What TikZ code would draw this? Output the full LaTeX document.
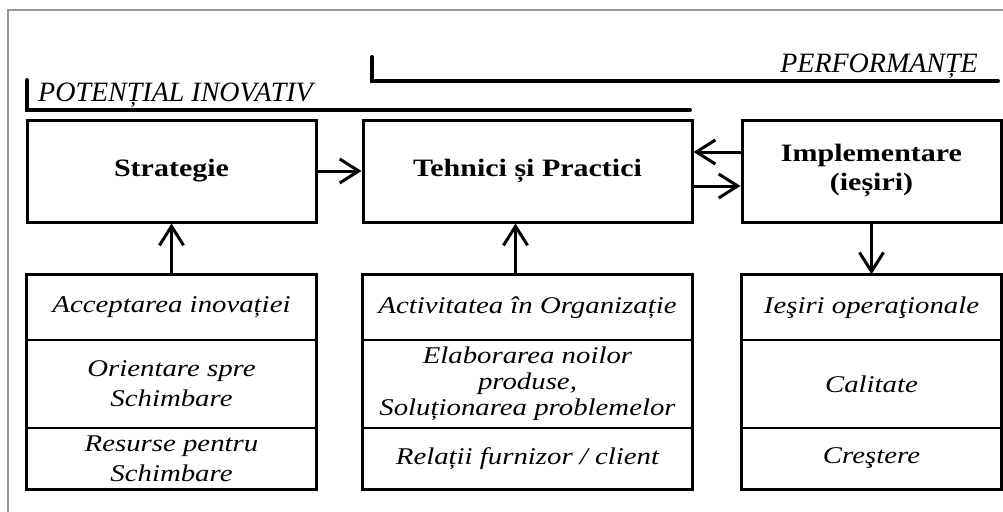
\documentclass[tikz,border=0pt]{standalone}
\usepackage{fontspec}
\setmainfont{Liberation Serif}
\newfontfamily\boxfont[FakeStretch=1.2]{Liberation Serif}
\usepackage{tikz}
\usetikzlibrary{arrows.meta,positioning}

\tikzset{
  bigbox/.style={draw, line width=3pt, minimum height=102pt, align=center,
    font=\boxfont\bfseries\fontsize{25}{29}\selectfont},
  cell/.style={draw, line width=1.5pt, align=center, inner sep=0pt,
    font=\boxfont\itshape\fontsize{24}{30}\selectfont},
  arr/.style={line width=3pt, -{Straight Barb[length=19pt,width=24pt,line width=3pt]}},
  bracket/.style={line width=4pt, line cap=round},
  tag/.style={font=\itshape\fontsize{28}{30}\selectfont, inner sep=0pt}
}

\begin{document}
\begin{tikzpicture}[x=1pt, y=-1pt]
    \useasboundingbox (0,0) rectangle (1003,511);
    \draw[gray!80, line width=1.2pt] (8,515) -- (8,10) -- (1010,10);

    \draw[bracket] (27,80) |- (690,110);
    \node[tag, anchor=base west] (pot) at (38,101) {POTENȚIAL INOVATIV};
    \draw[bracket] (372,57) |- (998,81);
    \node[tag, anchor=base east] (perf) at (978,72) {PERFORMANȚE};

    \node[bigbox, minimum width=289pt] (strat) at (171.5,171) {Strategie};
    \node[bigbox, minimum width=329pt] (tehn) at (527.5,171) {Tehnici și Practici};
    \node[bigbox, minimum width=259pt] (impl) at (871.5,171) {Implementare\\(ieșiri)};

    \node[cell, minimum width=289pt, minimum height=65pt] (a1) at (171.5,307.5) {Acceptarea inovației};
    \node[cell, minimum width=289pt, minimum height=88pt] (a2) at (171.5,384) {Orientare spre\\Schimbare};
    \node[cell, minimum width=289pt, minimum height=61pt] (a3) at (171.5,458.5) {Resurse pentru\\Schimbare};

    \node[cell, minimum width=329pt, minimum height=65pt] (b1) at (527.5,307.5) {Activitatea în Organizație};
    \node[cell, minimum width=329pt, minimum height=88pt, font=\boxfont\itshape\fontsize{24}{26}\selectfont] (b2) at (527.5,384) {Elaborarea noilor\\produse,\\Soluționarea problemelor};
    \node[cell, minimum width=329pt, minimum height=61pt] (b3) at (527.5,458.5) {Relații furnizor / client};

    \node[cell, minimum width=259pt, minimum height=65pt] (c1) at (871.5,307.5) {Ieşiri operaţionale};
    \node[cell, minimum width=259pt, minimum height=88pt] (c2) at (871.5,384) {Calitate};
    \node[cell, minimum width=259pt, minimum height=61pt] (c3) at (871.5,458.5) {Creştere};

    \draw[line width=3pt] (a1.north west) rectangle (a3.south east);
    \draw[line width=3pt] (b1.north west) rectangle (b3.south east);
    \draw[line width=3pt] (c1.north west) rectangle (c3.south east);

    \draw[arr] (strat) -- (tehn);
    \draw[arr] ([yshift=19pt]impl.west) -- ([yshift=19pt]tehn.east);
    \draw[arr] ([yshift=-15pt]tehn.east) -- ([yshift=-15pt]impl.west);
    \draw[arr] (a1.north) -- (strat.south);
    \draw[arr] ([xshift=-12pt]b1.north) -- ([xshift=-12pt]tehn.south);
    \draw[arr] (impl.south) -- (c1.north);
\end{tikzpicture}
\end{document}
